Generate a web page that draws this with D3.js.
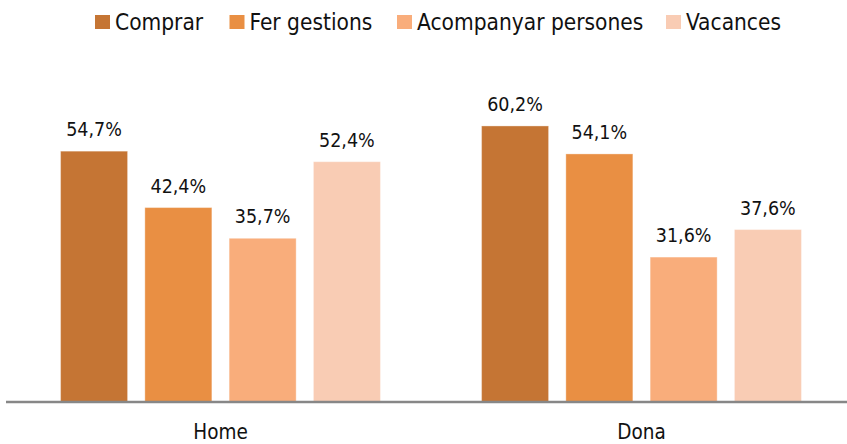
<!DOCTYPE html>
<html><head><meta charset="utf-8">
<script src="https://cdn.jsdelivr.net/npm/d3@7"></script>
<style>body{margin:0;background:#fff;} svg{display:block;}</style>
</head><body>
<svg id="chart" width="847" height="444"></svg>
<script>
const categories = ["Home", "Dona"];
const seriesNames = ["Comprar", "Fer gestions", "Acompanyar persones", "Vacances"];
const comprar = [54.7, 60.2];
const ferGestions = [42.4, 54.1];
const acompanyar = [35.7, 31.6];
const vacances = [52.4, 37.6];
const colors = ["#C57534", "#E98F43", "#F9AD7B", "#F9CCB4"];

const seriesValues = [comprar, ferGestions, acompanyar, vacances];
const font = "'DejaVu Sans Condensed', 'DejaVu Sans', sans-serif";
const svg = d3.select("#chart");
const baseY = 402;

const x0 = d3.scaleBand().domain(categories).range([10, 852]);
const x1 = d3.scaleBand().domain(seriesNames).range([0, x0.bandwidth()]).paddingInner(0.205).paddingOuter(0.6);
const y = d3.scaleLinear().domain([0, 70]).range([baseY, 81]);

const groups = svg.selectAll("g.grp").data(categories).join("g")
  .attr("transform", d => `translate(${x0(d)},0)`);

groups.each(function(cat, ci) {
  const g = d3.select(this);
  seriesNames.forEach((s, si) => {
    const v = seriesValues[si][ci];
    g.append("rect")
      .attr("x", x1(s)).attr("width", x1.bandwidth())
      .attr("y", y(v)).attr("height", baseY - y(v))
      .attr("fill", colors[si])
      .attr("stroke", "#fff").attr("stroke-opacity", 0.35).attr("stroke-width", 1);
    g.append("text")
      .attr("x", x1(s) + x1.bandwidth() / 2)
      .attr("y", y(v) - 15)
      .attr("text-anchor", "middle")
      .attr("font-family", font).attr("font-size", 19.5).attr("fill", "#111")
      .text(d3.format(".1f")(v).replace(".", ",") + "%");
  });
});

// axis line
svg.append("line").attr("x1", 6).attr("x2", 847).attr("y1", baseY).attr("y2", baseY)
  .attr("stroke", "#878787").attr("stroke-width", 2.5);

const xAxis = d3.axisBottom(x0).tickSize(0).tickPadding(0);
const ax = svg.append("g").attr("transform", `translate(0,${baseY})`).call(xAxis);
ax.select(".domain").remove();
ax.selectAll("text").attr("font-family", font).attr("font-size", 20.5).attr("fill", "#111")
  .attr("dy", null).attr("y", 37);

// legend
const legX = [95, 229.5, 397, 666];
const leg = svg.append("g");
seriesNames.forEach((s, i) => {
  leg.append("rect").attr("x", legX[i]).attr("y", 15).attr("width", 15).attr("height", 14).attr("fill", colors[i]);
  leg.append("text").attr("x", legX[i] + 20).attr("y", 30)
    .attr("font-family", font).attr("font-size", 22.5).attr("fill", "#111").text(s);
});
</script>
</body></html>
